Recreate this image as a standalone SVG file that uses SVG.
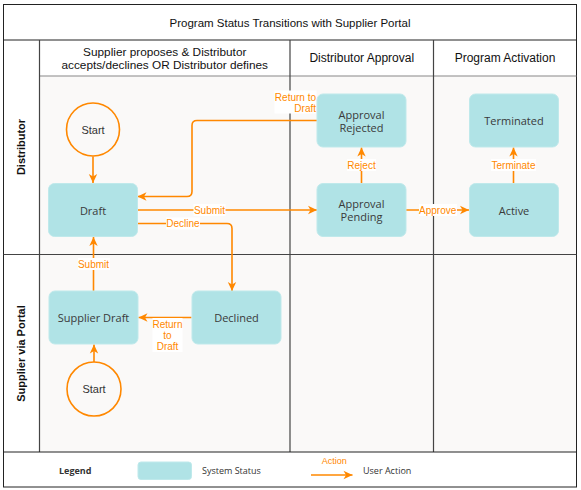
<svg xmlns="http://www.w3.org/2000/svg" width="581" height="490" viewBox="0 0 581 490">
<defs>
<style>
.frame{fill:none;stroke:#222;stroke-width:1}
.div{stroke:#444;stroke-width:1.2;fill:none}
.hdr{font-family:"Liberation Sans",Arial,sans-serif;font-size:12px;fill:#111;text-anchor:middle;dominant-baseline:central}
.lane{font-family:"Liberation Sans",Arial,sans-serif;font-size:11px;font-weight:bold;fill:#111;text-anchor:middle;dominant-baseline:central}
.node rect{fill:#b0e3e6;stroke:#bfe9eb;stroke-width:1}
.nt{font-family:"Open Sans","Noto Sans",sans-serif;font-size:11px;fill:#3a3a3a;text-anchor:middle;dominant-baseline:central}
.start circle{fill:none;stroke:#ff8800;stroke-width:1.6}
.st{font-family:"Liberation Sans",Arial,sans-serif;font-size:11px;fill:#333;text-anchor:middle;dominant-baseline:central}
.edge{fill:none;stroke:#ff8800;stroke-width:1.6;marker-end:url(#arr)}
.lb{fill:#ffffff}
.el{font-family:"Liberation Sans",Arial,sans-serif;font-size:10px;fill:#ff8800;text-anchor:middle;dominant-baseline:central}
.lg{font-family:"Open Sans","Noto Sans",sans-serif;font-size:9px;fill:#333;dominant-baseline:central}
</style>
<marker id="arr" viewBox="0 0 10 10" refX="9.5" refY="5" markerWidth="10" markerHeight="10" markerUnits="userSpaceOnUse" orient="auto">
<path d="M0.5,0.8 L9.5,5 L0.5,9.2 L3,5 Z" fill="#ff8800"/>
</marker>
</defs>

<g id="background">
<rect x="3.5" y="4.5" width="573" height="482.5" fill="#ffffff"/>
<rect x="39.5" y="76" width="537" height="376" fill="#faf9f8"/>
</g>

<g id="pool">
<rect class="frame" x="3.5" y="4.5" width="573" height="482.5"/>
<line class="frame" x1="3.5" y1="40" x2="576.5" y2="40"/>
<line x1="39.5" y1="76" x2="576.5" y2="76" stroke="#888" stroke-width="1.2"/>
<line class="div" x1="39.5" y1="40" x2="39.5" y2="452"/>
<line class="div" x1="290" y1="40" x2="290" y2="452"/>
<line class="div" x1="433.5" y1="40" x2="433.5" y2="452"/>
<line class="div" x1="3.5" y1="254.5" x2="576.5" y2="254.5"/>
<line class="frame" x1="3.5" y1="452" x2="576.5" y2="452"/>
<text class="hdr" x="290" y="23" style="font-size:11.5px">Program Status Transitions with Supplier Portal</text>
<text class="hdr" x="164.75" y="52" style="font-size:11.8px">Supplier proposes &amp; Distributor</text>
<text class="hdr" x="164.75" y="65" style="font-size:11.8px">accepts/declines OR Distributor defines</text>
<text class="hdr" x="361.75" y="58">Distributor Approval</text>
<text class="hdr" x="505" y="58">Program Activation</text>
<text class="lane" x="21" y="147" transform="rotate(-90 21 147)">Distributor</text>
<text class="lane" x="21" y="353.5" transform="rotate(-90 21 353.5)">Supplier via Portal</text>
</g>

<g id="connectors">
<path class="edge" d="M93,156.5 V183"/>
<path class="edge" d="M317,120.5 H197 Q192,120.5 192,125.5 V191.5 Q192,196.5 187,196.5 H137.5"/>
<path class="edge" d="M137.5,210 H317"/>
<path class="edge" d="M137.5,223.5 H227 Q232,223.5 232,228.5 V291"/>
<path class="edge" d="M361.5,183 V147.5"/>
<path class="edge" d="M406,210 H469"/>
<path class="edge" d="M513.5,183 V147.5"/>
<path class="edge" d="M93.5,291 V237"/>
<path class="edge" d="M191.5,317.5 H138.5"/>
<path class="edge" d="M94,362 V344.5"/>
<rect class="lb" x="274.5" y="90.5" width="42" height="23"/>
<text class="el" x="316" y="97" style="text-anchor:end">Return to</text>
<text class="el" x="316" y="108" style="text-anchor:end">Draft</text>
<rect class="lb" x="193.5" y="204" width="32" height="12"/>
<text class="el" x="209.5" y="210">Submit</text>
<rect class="lb" x="166" y="217.5" width="34" height="12"/>
<text class="el" x="183" y="223.5">Decline</text>
<rect class="lb" x="347" y="159" width="29" height="12"/>
<text class="el" x="361.5" y="165">Reject</text>
<rect class="lb" x="419" y="204" width="38" height="12"/>
<text class="el" x="437.7" y="210">Approve</text>
<rect class="lb" x="491" y="159" width="45" height="12"/>
<text class="el" x="513.5" y="165">Terminate</text>
<rect class="lb" x="78" y="258" width="32" height="12"/>
<text class="el" x="93.5" y="264">Submit</text>
<rect class="lb" x="152.5" y="318" width="30" height="34"/>
<text class="el" x="167.5" y="324">Return</text>
<text class="el" x="167.5" y="335.3">to</text>
<text class="el" x="167.5" y="346.7">Draft</text>
</g>

<g id="start1" class="start">
<circle cx="93" cy="129.5" r="26.5"/>
<text class="st" x="93" y="129.5">Start</text>
</g>
<g id="start2" class="start">
<circle cx="94" cy="389" r="27"/>
<text class="st" x="94" y="389">Start</text>
</g>
<g id="draft" class="node">
<rect x="48.5" y="183.5" width="89" height="53" rx="6"/>
<text class="nt" x="93" y="210">Draft</text>
</g>
<g id="approval-rejected" class="node">
<rect x="317" y="94" width="89" height="53" rx="6"/>
<text class="nt" x="361.5" y="114.3">Approval</text>
<text class="nt" x="361.5" y="127">Rejected</text>
</g>
<g id="approval-pending" class="node">
<rect x="317" y="183.5" width="89" height="53" rx="6"/>
<text class="nt" x="361.5" y="203.7">Approval</text>
<text class="nt" x="361.5" y="216.4">Pending</text>
</g>
<g id="terminated" class="node">
<rect x="469.5" y="94" width="89" height="53" rx="6"/>
<text class="nt" x="514" y="120.7">Terminated</text>
</g>
<g id="active" class="node">
<rect x="469.5" y="183.5" width="89" height="53" rx="6"/>
<text class="nt" x="514" y="210">Active</text>
</g>
<g id="supplier-draft" class="node">
<rect x="49" y="291" width="89" height="53" rx="6"/>
<text class="nt" x="93.5" y="317.5">Supplier Draft</text>
</g>
<g id="declined" class="node">
<rect x="192" y="291" width="89" height="53" rx="6"/>
<text class="nt" x="236.5" y="317.5">Declined</text>
</g>

<g id="legend">
<text class="lg" x="59" y="470" style="font-weight:bold">Legend</text>
<rect x="138" y="462" width="53.5" height="17.5" rx="3" fill="#b0e3e6" stroke="#bfe9eb"/>
<text class="lg" x="202" y="470">System Status</text>
<path class="edge" d="M311,475 H352.5"/>
<text class="el" x="334.3" y="461" style="font-size:9px">Action</text>
<text class="lg" x="363" y="470">User Action</text>
</g>
</svg>
